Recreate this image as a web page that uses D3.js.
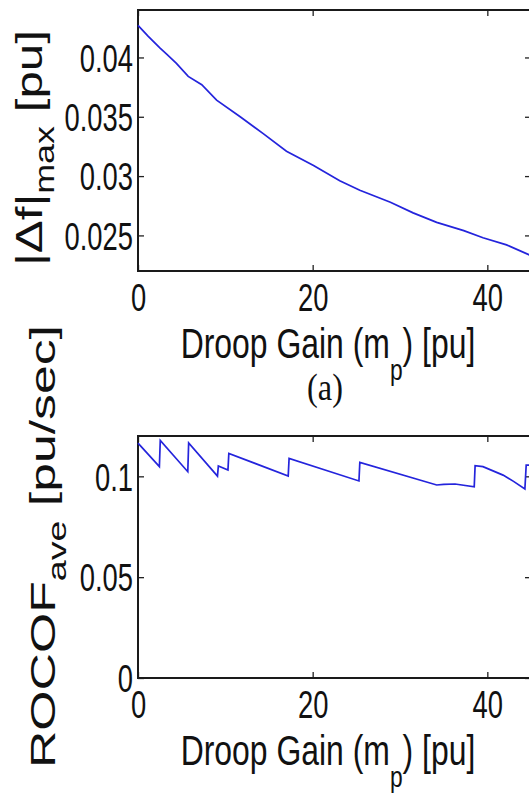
<!DOCTYPE html>
<html>
<head>
<meta charset="utf-8">
<title>Droop gain</title>
<script src="https://cdn.jsdelivr.net/npm/d3@7"></script>
<style>
  body { margin: 0; background: #fff; }
  svg { display: block; }
  text { white-space: pre; }
</style>
</head>
<body>
<div id="chart"></div>
<script>
// (a) max frequency deviation vs droop gain
var dfX = [0, 1.15, 2.5, 3.25, 4.4, 5.75, 7.3, 9.0, 11.7, 14.3, 17.0, 20.1, 23.1, 25.4, 28.9, 31.5, 34.2, 37.3, 39.5, 42.2, 45];
var dfY = [0.0427, 0.0418, 0.0408, 0.0403, 0.0395, 0.0384, 0.0377, 0.0364, 0.0350, 0.0336, 0.0321, 0.0309, 0.0296, 0.0288, 0.0278, 0.0269, 0.0261, 0.0254, 0.0248, 0.0242, 0.0233];

// (b) average ROCOF vs droop gain (saw-tooth)
var rocX = [0, 2.45, 2.55, 5.7, 5.8, 9.1, 9.2, 10.3, 10.4, 17.2, 17.3, 25.3, 25.4, 34.2, 35.0, 36.3, 38.5, 38.6, 39.5, 41.8, 43.0, 44.3, 44.45, 45];
var rocY = [0.1165, 0.1048, 0.1178, 0.1023, 0.1165, 0.1001, 0.1051, 0.1031, 0.1114, 0.1001, 0.1089, 0.0977, 0.1069, 0.0957, 0.0960, 0.0962, 0.0948, 0.1053, 0.1048, 0.1006, 0.0975, 0.0937, 0.1056, 0.1056];

var xTicks = [0, 20, 40];
var dfTicks = [0.025, 0.03, 0.035, 0.04];
var rocTicks = [0, 0.05, 0.1];

var w = 529, h = 793;
var font = "'Liberation Sans', Arial, Helvetica, sans-serif";
var lineColor = "#2424dc";

var svg = d3.select("#chart").append("svg")
    .attr("width", w)
    .attr("height", h);

svg.append("rect").attr("width", w).attr("height", h).attr("fill", "#fff");

var x = d3.scaleLinear().domain([0, 45]).range([138, 531]);

function fmt(d) { return String(+d.toFixed(3)); }

function panel(xs, ys, yDomain, yRange, yTickVals) {
    var y = d3.scaleLinear().domain(yDomain).range(yRange);
    var g = svg.append("g");

    // ticks on all four sides, pointing in; labels only left and bottom
    var sides = [
        [d3.axisBottom(x).tickValues(xTicks), "translate(0," + yRange[0] + ")", true, 13],
        [d3.axisTop(x).tickValues(xTicks), "translate(0," + yRange[1] + ")", false, 0],
        [d3.axisLeft(y).tickValues(yTickVals), "translate(" + x.range()[0] + ",0)", true, 5],
        [d3.axisRight(y).tickValues(yTickVals), "translate(" + x.range()[1] + ",0)", false, 0]
    ];
    sides.forEach(function(s) {
        var ax = s[0].tickSizeInner(-6).tickSizeOuter(0).tickPadding(s[3]);
        ax.tickFormat(s[2] ? fmt : "");
        var a = g.append("g").attr("transform", s[1]).call(ax);
        a.select(".domain").remove();
        a.selectAll("line").attr("stroke", "#222").attr("stroke-width", 1.3);
        a.selectAll("text")
            .attr("font-family", font)
            .attr("font-size", 38)
            .attr("fill", "#111");
    });

    // frame
    g.append("rect")
        .attr("x", x.range()[0]).attr("y", yRange[1])
        .attr("width", x.range()[1] - x.range()[0])
        .attr("height", yRange[0] - yRange[1])
        .attr("fill", "none")
        .attr("stroke", "#1a1a1a")
        .attr("stroke-width", 2);

    var line = d3.line()
        .x(function(d) { return x(d[0]); })
        .y(function(d) { return y(d[1]); });

    g.append("path")
        .datum(d3.zip(xs, ys))
        .attr("d", line)
        .attr("fill", "none")
        .attr("stroke", lineColor)
        .attr("stroke-width", 1.7);

    return g;
}

panel(dfX, dfY, [0.022, 0.044], [271, 10], dfTicks);
panel(rocX, rocY, [0, 0.12], [678, 436], rocTicks);

// squeeze tick labels horizontally, like the source picture
svg.selectAll(".tick text").each(function() {
    var t = d3.select(this);
    var xx = +t.attr("x") || 0;
    t.attr("x", xx / 0.72).attr("transform", "scale(0.72,1)");
    if (t.attr("dy") === "0.32em") t.attr("dy", "0.36em");
});

// x axis titles
function xTitle(yBase) {
    var t = svg.append("text")
        .attr("font-family", font)
        .attr("font-size", 42)
        .attr("fill", "#111")
        .attr("text-anchor", "middle")
        .attr("transform", "translate(328," + yBase + ") scale(0.76,1)");
    t.append("tspan").text("Droop Gain (m");
    t.append("tspan").attr("font-size", 30).attr("dy", 22).text("p");
    t.append("tspan").attr("dy", -22).text(") [pu]");
}
xTitle(358);
xTitle(765);

// rotated y axis titles, fitted between two y positions
function yTitle(main, sub, rest, xBase, yTop, yBot, across) {
    var t = svg.append("text")
        .attr("font-family", font)
        .attr("font-size", 44)
        .attr("fill", "#111");
    t.append("tspan").text(main);
    t.append("tspan").attr("font-size", 32).attr("dy", "0.45em").text(sub);
    t.append("tspan").attr("dy", "-0.33em").text(rest);
    var bb = t.node().getBBox();
    var k = (yBot - yTop) / bb.width;
    t.attr("transform", "translate(" + xBase + "," + yBot + ") rotate(-90) scale(" + k + "," + across + ") translate(" + (-bb.x) + ",0)");
}
yTitle("|\u0394f|", "max", " [pu]", 42, 30, 266, 0.86);
yTitle("ROCOF", "ave", " [pu/sec]", 55, 325, 768, 0.79);

// panel caption
svg.append("text")
    .attr("font-family", "'Liberation Serif', 'Times New Roman', serif")
    .attr("font-size", 38)
    .attr("fill", "#111")
    .attr("text-anchor", "middle")
    .attr("transform", "translate(325,400) scale(0.85,1)")
    .text("(a)");
</script>
</body>
</html>
